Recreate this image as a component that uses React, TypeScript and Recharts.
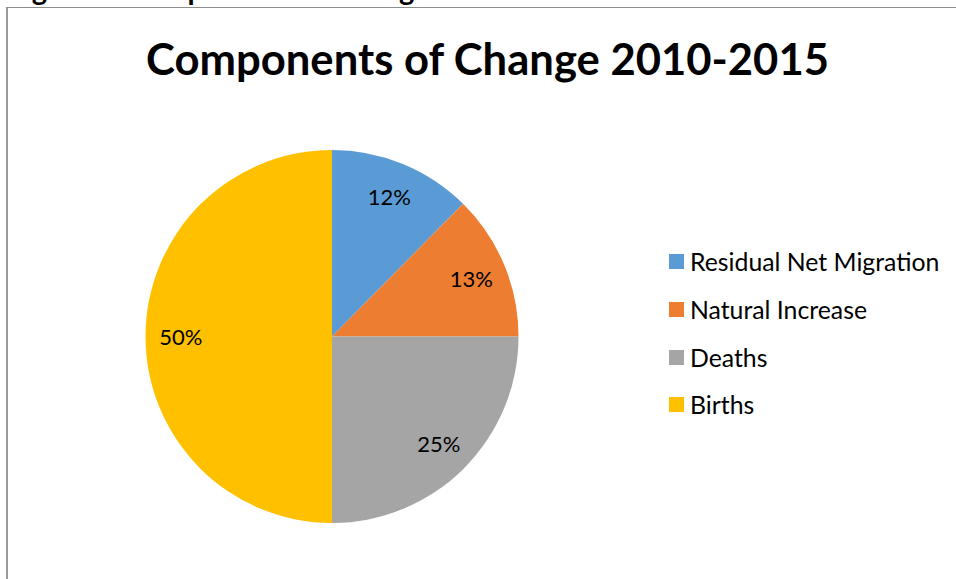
import React from "react";
import { PieChart, Pie, Cell, Legend } from "recharts";

const categories = ["Residual Net Migration", "Natural Increase", "Deaths", "Births"];
const values = [12.4, 12.6, 25, 50];
const colors = ["#5B9BD5", "#ED7D31", "#A5A5A5", "#FFC000"];
const chartTitle = "Components of Change 2010-2015";
const figureCaption = "Figure 6: Components of Change 2010-2015";

const data = categories.map((name, i) => ({ name, value: values[i] }));

const FONT = "Lato, 'Open Sans', sans-serif";
const RAD = Math.PI / 180;

const renderLabel = (props: any) => {
  const { cx, cy, midAngle, outerRadius, percent } = props;
  const r = outerRadius * 0.81;
  const x = cx + r * Math.cos(-midAngle * RAD);
  const y = cy + r * Math.sin(-midAngle * RAD);
  return (
    <text
      x={x}
      y={y}
      textAnchor="middle"
      dominantBaseline="central"
      fill="#000"
      fontSize={22}
      fontFamily={FONT}
    >
      {`${Math.round(percent * 100)}%`}
    </text>
  );
};

const renderLegend = () => {
  return (
    <div style={{ fontFamily: FONT }}>
      {categories.map((name, i) => (
        <div
          key={name}
          style={{ display: "flex", alignItems: "center", height: 47.7, fontSize: 24.8, color: "#000" }}
        >
          <span
            style={{ display: "inline-block", width: 15, height: 15, background: colors[i], marginRight: 6 }}
          />
          <span>{name}</span>
        </div>
      ))}
    </div>
  );
};

export default function App() {
  return (
    <div style={{ position: "absolute", left: 0, top: 0, width: 956, height: 579, overflow: "hidden", background: "#fff" }}>
      <div
        style={{
          position: "absolute",
          left: 8,
          top: -26,
          fontFamily: FONT,
          fontWeight: 700,
          fontSize: 29,
          lineHeight: "29px",
          whiteSpace: "nowrap",
          color: "#000",
        }}
      >
        {figureCaption}
      </div>
      <div
        style={{
          position: "absolute",
          left: 6,
          top: 7,
          width: 1000,
          height: 600,
          borderLeft: "2px solid #9a9a9a",
          borderTop: "1px solid #8c8c8c",
        }}
      />
      <div
        style={{
          position: "absolute",
          left: 0,
          width: 975,
          top: 32,
          textAlign: "center",
          fontFamily: FONT,
          fontWeight: 700,
          fontSize: 43.6,
          lineHeight: "52px",
          color: "#000",
          whiteSpace: "nowrap",
        }}
      >
        {chartTitle}
      </div>
      <div style={{ position: "absolute", left: 0, top: 0 }}>
        <PieChart width={956} height={579} margin={{ top: 0, right: 0, bottom: 0, left: 0 }}>
          <Pie
            data={data}
            dataKey="value"
            nameKey="name"
            cx={332}
            cy={336.5}
            outerRadius={186.5}
            startAngle={90}
            endAngle={-270}
            stroke="none"
            label={renderLabel}
            labelLine={false}
            isAnimationActive={false}
          >
            {data.map((d, i) => (
              <Cell key={d.name} fill={colors[i]} />
            ))}
          </Pie>
          <Legend
            layout="vertical"
            content={renderLegend}
            wrapperStyle={{ position: "absolute", left: 669, top: 238, width: 287 }}
          />
        </PieChart>
      </div>
    </div>
  );
}
